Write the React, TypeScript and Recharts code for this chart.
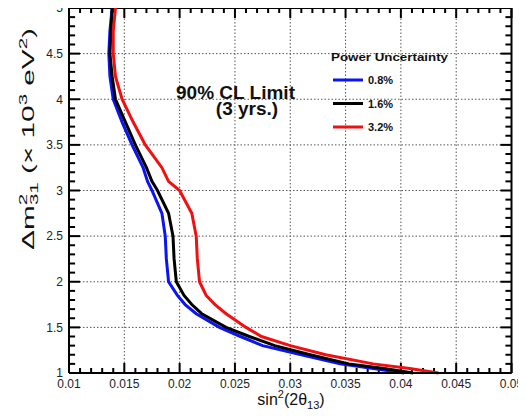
import React from "react";
import { LineChart, Line, XAxis, YAxis, ReferenceLine, CartesianGrid } from "recharts";

const dm2Levels = [5, 4.75, 4.5, 4.25, 4, 3.75, 3.5, 3.25, 3.1, 3, 2.75, 2.5, 2.25, 2, 1.85, 1.75, 1.65, 1.5, 1.4, 1.3, 1.2, 1.1, 1.05, 1.0];
const sinBlue = [0.0139, 0.0137, 0.0136, 0.0137, 0.014, 0.0148, 0.0157, 0.0167, 0.0171, 0.0175, 0.0184, 0.0187, 0.0188, 0.019, 0.0198, 0.0205, 0.0215, 0.0236, 0.0255, 0.0275, 0.031, 0.0345, 0.0375, 0.0403];
const sinBlack = [0.0139, 0.0138, 0.0137, 0.0139, 0.0142, 0.0151, 0.016, 0.017, 0.0175, 0.018, 0.019, 0.0194, 0.0195, 0.0197, 0.0204, 0.0211, 0.022, 0.0242, 0.0263, 0.0286, 0.0318, 0.0353, 0.0385, 0.0411];
const sinRed = [0.0142, 0.014, 0.014, 0.0142, 0.0148, 0.0158, 0.0169, 0.0184, 0.019, 0.02, 0.0211, 0.0215, 0.0216, 0.0218, 0.0224, 0.0232, 0.0242, 0.026, 0.0274, 0.03, 0.0332, 0.0375, 0.0408, 0.0434];

const seriesNames = ["0.8%", "1.6%", "3.2%"];
const seriesColors = ["#0a14f5", "#000000", "#f01010"];
const seriesValues = [sinBlue, sinBlack, sinRed];

const xMajorTicks = [0.01, 0.015, 0.02, 0.025, 0.03, 0.035, 0.04, 0.045, 0.05];
const yMajorTicks = [1, 1.5, 2, 2.5, 3, 3.5, 4, 4.5, 5];
const xAllTicks = Array.from({ length: 41 }, (_, i) => +(0.01 + i * 0.001).toFixed(3));
const yAllTicks = Array.from({ length: 41 }, (_, i) => +(1 + i * 0.1).toFixed(1));

const X_MIN = 0.01, X_MAX = 0.05, Y_MIN = 1, Y_MAX = 5;
const FONT = "'Liberation Sans', Arial, Helvetica, sans-serif";

const series = seriesValues.map((vals) => dm2Levels.map((dm, i) => ({ s: vals[i], dm })));

const isMajor = (v: number, step: number) => Math.abs(v / step - Math.round(v / step)) < 1e-6;

// tick-mark lengths expressed in data units of the perpendicular axis
const xTickLen = (v: number) => (isMajor(v, 0.005) ? 0.11 : 0.055);
const yTickLen = (v: number) => (isMajor(v, 0.5) ? 0.001 : 0.00055);

const tickStyle = { stroke: "#000", strokeWidth: 2 };

export default function App() {
  const tickMarks: React.ReactNode[] = [];
  xAllTicks.forEach((v) => {
    const L = xTickLen(v);
    tickMarks.push(
      <ReferenceLine key={"tb" + v} xAxisId="b" yAxisId="l" ifOverflow="visible" {...tickStyle}
        segment={[{ x: v, y: Y_MIN }, { x: v, y: Y_MIN + L }]} />
    );
    tickMarks.push(
      <ReferenceLine key={"tt" + v} xAxisId="b" yAxisId="l" ifOverflow="visible" {...tickStyle}
        segment={[{ x: v, y: Y_MAX }, { x: v, y: Y_MAX - L }]} />
    );
  });
  yAllTicks.forEach((v) => {
    const L = yTickLen(v);
    tickMarks.push(
      <ReferenceLine key={"tl" + v} xAxisId="b" yAxisId="l" ifOverflow="visible" {...tickStyle}
        segment={[{ x: X_MIN, y: v }, { x: X_MIN + L, y: v }]} />
    );
    tickMarks.push(
      <ReferenceLine key={"tr" + v} xAxisId="b" yAxisId="l" ifOverflow="visible" {...tickStyle}
        segment={[{ x: X_MAX, y: v }, { x: X_MAX - L, y: v }]} />
    );
  });

  return (
    <div style={{ margin: -8, width: 526, height: 418 }}>
      <LineChart width={526} height={418} margin={{ top: 8, right: 14.5, bottom: 0, left: 0 }}>
        <CartesianGrid xAxisId="b" yAxisId="l" stroke="#555" strokeDasharray="1.5 2" strokeWidth={1} />
        <XAxis
          xAxisId="b"
          type="number"
          dataKey="s"
          domain={[X_MIN, X_MAX]}
          ticks={xMajorTicks}
          interval={0}
          tickSize={0}
          tickMargin={6}
          height={45}
          axisLine={{ stroke: "#000", strokeWidth: 2 }}
          tickLine={false}
          tick={{ fontSize: 12, fill: "#222", fontFamily: FONT }}
        />
        <YAxis
          yAxisId="l"
          type="number"
          dataKey="dm"
          domain={[Y_MIN, Y_MAX]}
          ticks={yMajorTicks}
          interval={0}
          tickSize={0}
          tickMargin={6}
          width={69}
          axisLine={{ stroke: "#000", strokeWidth: 2 }}
          tickLine={false}
          tick={{ fontSize: 12, fill: "#222", fontFamily: FONT }}
        />
        <ReferenceLine xAxisId="b" yAxisId="l" x={X_MAX} stroke="#000" strokeWidth={2} ifOverflow="visible" />
        <ReferenceLine xAxisId="b" yAxisId="l" y={Y_MAX} stroke="#000" strokeWidth={2} ifOverflow="visible" />
        {tickMarks}
        {series.map((d, i) => (
          <Line
            key={seriesNames[i]}
            data={d}
            xAxisId="b"
            yAxisId="l"
            dataKey="dm"
            stroke={seriesColors[i]}
            strokeWidth={3}
            dot={false}
            isAnimationActive={false}
          />
        ))}
        <g fontFamily={FONT}>
          <text x={235.5} y={99} textAnchor="middle" fontSize={19} fontWeight="bold" fill="#111">90% CL Limit</text>
          <text x={247} y={115} textAnchor="middle" fontSize={19} fontWeight="bold" fill="#111">(3 yrs.)</text>
          <text x={331} y={61} fontSize={11.5} fontWeight="bold" fill="#111" textLength={117} lengthAdjust="spacingAndGlyphs">Power Uncertainty</text>
          {seriesNames.map((n, i) => (
            <g key={n}>
              <line x1={333} x2={363} y1={80 + i * 23.5} y2={80 + i * 23.5} stroke={seriesColors[i]} strokeWidth={3} />
              <text x={368} y={84 + i * 23.5} fontSize={11} fontWeight="bold" fill="#111">{n}</text>
            </g>
          ))}
          <text x={291} y={405} textAnchor="middle" fontSize={16} fill="#111">
            sin<tspan fontSize={11} dy={-7}>2</tspan>
            <tspan dy={7}>(2θ</tspan>
            <tspan fontSize={11} dy={4}>13</tspan>
            <tspan dy={-4}>)</tspan>
          </text>
          <text transform="translate(34, 28) rotate(-90)" textAnchor="end" fontSize={16} fill="#111"
            textLength={222} lengthAdjust="spacingAndGlyphs">
            Δm<tspan fontSize={11} dy={-7}>2</tspan>
            <tspan fontSize={11} dx={-6} dy={11}>31</tspan>
            <tspan dy={-4}> (× 10</tspan>
            <tspan fontSize={11} dy={-7}>3</tspan>
            <tspan dy={7}> eV</tspan>
            <tspan fontSize={11} dy={-7}>2</tspan>
            <tspan dy={7}>)</tspan>
          </text>
        </g>
      </LineChart>
    </div>
  );
}
